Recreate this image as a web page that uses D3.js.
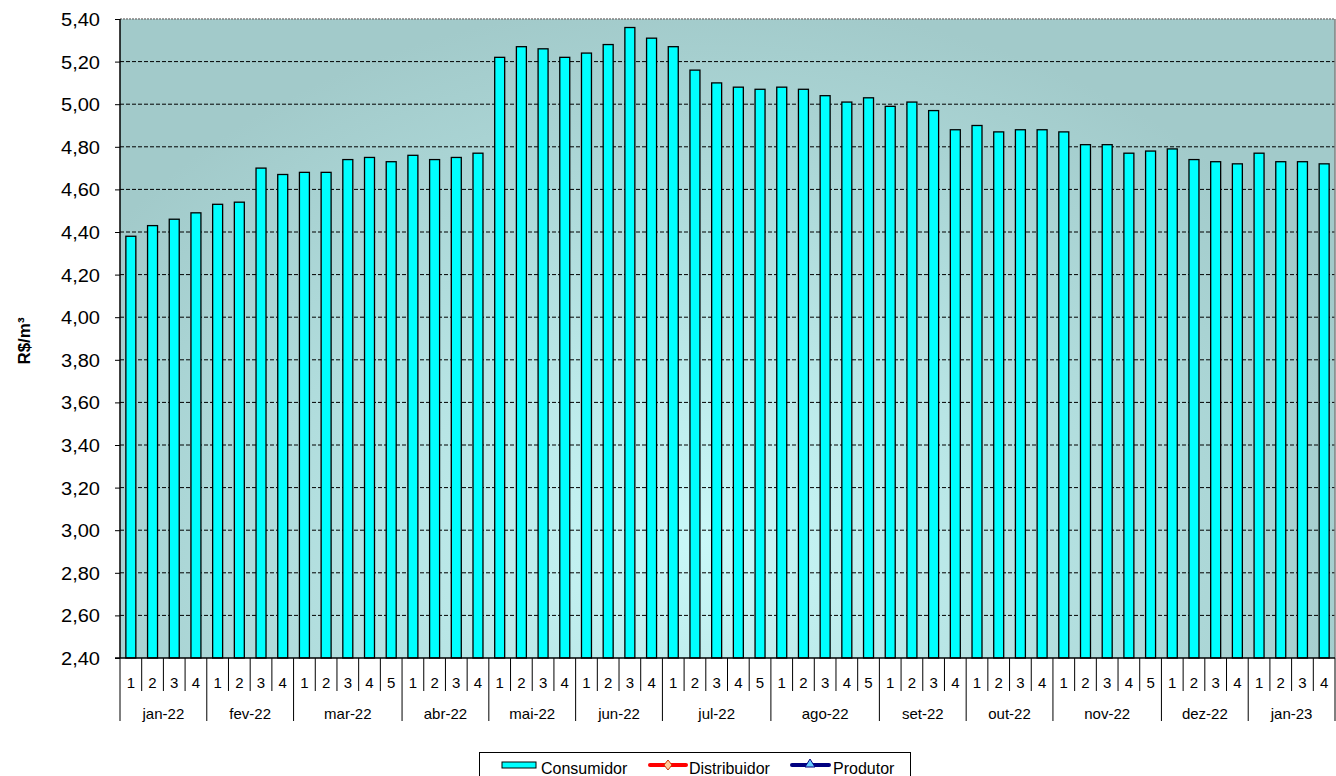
<!DOCTYPE html>
<html>
<head>
<meta charset="utf-8">
<script src="https://cdn.jsdelivr.net/npm/d3@7"></script>
<style>
	body { margin: 0; background: #fff; }
	text { font-family: Arial, "Liberation Sans", sans-serif; fill: #000; }
</style>
</head>
<body>
<svg id="chart" width="1336" height="776"></svg>
<script>
// months shown on the x axis and how many weeks each one has
var months = ['jan-22','fev-22','mar-22','abr-22','mai-22','jun-22','jul-22','ago-22','set-22','out-22','nov-22','dez-22','jan-23'];
var weeksPerMonth = [4,4,5,4,4,4,5,5,4,4,5,4,4];
// Consumidor price, R$/m3, one value per week
var consumidor = [
	4.38,4.43,4.46,4.49,
	4.53,4.54,4.70,4.67,
	4.68,4.68,4.74,4.75,4.73,
	4.76,4.74,4.75,4.77,
	5.22,5.27,5.26,5.22,
	5.24,5.28,5.36,5.31,
	5.27,5.16,5.10,5.08,5.07,
	5.08,5.07,5.04,5.01,5.03,
	4.99,5.01,4.97,4.88,
	4.90,4.87,4.88,4.88,
	4.87,4.81,4.81,4.77,4.78,
	4.79,4.74,4.73,4.72,
	4.77,4.73,4.73,4.72
];
var yTicks = [2.40,2.60,2.80,3.00,3.20,3.40,3.60,3.80,4.00,4.20,4.40,4.60,4.80,5.00,5.20,5.40];
var legendNames = ['Consumidor','Distribuidor','Produtor'];

var plot = {left: 120, right: 1335, top: 19, bottom: 658};
var svg = d3.select('#chart');

// build the week categories from the months
var weeks = [];
months.forEach(function(m, i){
	for (var w = 1; w <= weeksPerMonth[i]; w++){
		weeks.push({month: m, week: w, key: m + '|' + w});
	}
});
weeks.forEach(function(d, i){ d.value = consumidor[i]; });

var x = d3.scaleBand()
	.domain(weeks.map(function(d){ return d.key; }))
	.range([plot.left, plot.right])
	.paddingInner(0.54)
	.paddingOuter(0.27);
var y = d3.scaleLinear()
	.domain([2.4, 5.4])
	.range([plot.bottom, plot.top]);

addBackground = function(){
	var grad = svg.append('defs')
		.append('radialGradient')
		.attr('id', 'bgGrad')
		.attr('gradientUnits', 'userSpaceOnUse')
		.attr('cx', 700).attr('cy', 540)
		.attr('r', 720)
		.attr('gradientTransform', 'translate(700,540) scale(1,0.75) translate(-700,-540)');
	grad.append('stop').attr('offset', '0%').attr('stop-color', '#c9f8f8');
	grad.append('stop').attr('offset', '60%').attr('stop-color', '#b0dcdc');
	grad.append('stop').attr('offset', '100%').attr('stop-color', '#a2caca');
	svg.append('rect')
		.attr('x', plot.left)
		.attr('y', plot.top)
		.attr('width', plot.right - plot.left)
		.attr('height', plot.bottom - plot.top)
		.attr('fill', 'url(#bgGrad)');
};

addGrid = function(){
	svg.append('g')
		.attr('id', 'gridG')
		.selectAll('line')
		.data(yTicks.slice(1))
		.enter()
		.append('line')
		.attr('x1', plot.left)
		.attr('x2', plot.right)
		.attr('y1', function(d){ return y(d); })
		.attr('y2', function(d){ return y(d); })
		.attr('stroke', function(d){ return d > 5.39 ? '#808080' : '#000'; })
		.attr('stroke-width', function(d){ return d > 5.39 ? 1.5 : 1; })
		.attr('stroke-dasharray', function(d){ return d > 5.39 ? '2,1' : '4,2'; });
	// right border
	svg.append('line')
		.attr('x1', plot.right).attr('x2', plot.right)
		.attr('y1', plot.top).attr('y2', plot.bottom)
		.attr('stroke', '#808080')
		.attr('stroke-width', 1.5);
};

addBars = function(){
	svg.append('g')
		.attr('id', 'barsG')
		.selectAll('rect')
		.data(weeks)
		.enter()
		.append('rect')
		.attr('x', function(d){ return x(d.key); })
		.attr('y', function(d){ return y(d.value); })
		.attr('width', x.bandwidth())
		.attr('height', function(d){ return plot.bottom - y(d.value); })
		.attr('fill', '#00ffff')
		.attr('stroke', '#000')
		.attr('stroke-width', 1.3);
};

addYAxis = function(){
	var axis = d3.axisLeft(y)
		.tickValues(yTicks)
		.tickFormat(function(d){ return d.toFixed(2).replace('.', ','); })
		.tickSize(5)
		.tickPadding(15);
	var g = svg.append('g')
		.attr('class', 'yTick')
		.attr('transform', 'translate(' + plot.left + ',0)')
		.call(axis)
		.attr('font-size', null)
		.attr('font-family', null);
	g.select('.domain').remove();
	g.selectAll('line').attr('stroke', '#000');
	// the original labels are drawn a bit wider than plain Arial
	g.selectAll('text')
		.attr('dy', '0.36em')
		.attr('textLength', 39)
		.attr('lengthAdjust', 'spacingAndGlyphs')
		.style('font-size', '18px');
	svg.append('line')
		.attr('x1', plot.left).attr('x2', plot.left)
		.attr('y1', plot.top).attr('y2', plot.bottom)
		.attr('stroke', '#000').attr('stroke-width', 1.5);
	svg.append('text')
		.attr('transform', 'translate(30,341) rotate(-90)')
		.attr('text-anchor', 'middle')
		.style('font-size', '17px')
		.style('font-weight', 'bold')
		.text('R$/m³');
};

addXAxis = function(){
	var step = x.step();
	var g = svg.append('g').attr('id', 'xAxisG');
	g.append('line')
		.attr('x1', plot.left - 5).attr('x2', plot.right)
		.attr('y1', plot.bottom).attr('y2', plot.bottom)
		.attr('stroke', '#000').attr('stroke-width', 1.5);
	// week separators
	g.selectAll('.weekTick')
		.data(weeks)
		.enter()
		.append('line')
		.attr('class', 'weekTick')
		.attr('x1', function(d){ return x(d.key) - (step - x.bandwidth()) / 2; })
		.attr('x2', function(d){ return x(d.key) - (step - x.bandwidth()) / 2; })
		.attr('y1', plot.bottom)
		.attr('y2', function(d){ return d.week == 1 ? 721 : 691; })
		.attr('stroke', '#000');
	g.append('line')
		.attr('x1', plot.right).attr('x2', plot.right)
		.attr('y1', plot.bottom).attr('y2', 721)
		.attr('stroke', '#000');
	g.selectAll('.weekLabel')
		.data(weeks)
		.enter()
		.append('text')
		.attr('class', 'weekLabel')
		.attr('x', function(d){ return x(d.key) + x.bandwidth() / 2; })
		.attr('y', 688)
		.attr('text-anchor', 'middle')
		.style('font-size', '15px')
		.text(function(d){ return d.week; });
	// month labels centred on their weeks
	g.selectAll('.monthLabel')
		.data(months)
		.enter()
		.append('text')
		.attr('class', 'monthLabel')
		.attr('x', function(m){
			var ws = weeks.filter(function(d){ return d.month == m; });
			var a = x(ws[0].key), b = x(ws[ws.length - 1].key) + x.bandwidth();
			return (a + b) / 2;
		})
		.attr('y', 719)
		.attr('text-anchor', 'middle')
		.style('font-size', '15px')
		.text(function(m){ return m; });
};

addLegend = function(){
	var g = svg.append('g').attr('id', 'legendG');
	g.append('rect')
		.attr('x', 479.5).attr('y', 752.5)
		.attr('width', 431).attr('height', 30)
		.attr('fill', '#fff')
		.attr('stroke', '#000');
	g.append('rect')
		.attr('x', 502).attr('y', 762)
		.attr('width', 34).attr('height', 6)
		.attr('fill', '#00ffff')
		.attr('stroke', '#000');
	g.append('text').attr('x', 541).attr('y', 774).style('font-size', '16px').text(legendNames[0]);
	g.append('line')
		.attr('x1', 650).attr('x2', 686).attr('y1', 765).attr('y2', 765)
		.attr('stroke', '#ff0000').attr('stroke-width', 4).attr('stroke-linecap', 'round');
	g.append('path')
		.attr('d', 'M668,760 L672,765 L668,770 L664,765 Z')
		.attr('fill', '#ffcc99').attr('stroke', '#cc3300');
	g.append('text').attr('x', 689).attr('y', 774).style('font-size', '16px').text(legendNames[1]);
	g.append('line')
		.attr('x1', 792).attr('x2', 829).attr('y1', 765).attr('y2', 765)
		.attr('stroke', '#000080').attr('stroke-width', 4).attr('stroke-linecap', 'round');
	g.append('path')
		.attr('d', 'M810,759 L815,767 L805,767 Z')
		.attr('fill', '#66ccff').attr('stroke', '#000080');
	g.append('text').attr('x', 833).attr('y', 774).style('font-size', '16px').text(legendNames[2]);
};

addBackground();
addGrid();
addBars();
addYAxis();
addXAxis();
addLegend();
</script>
</body>
</html>
